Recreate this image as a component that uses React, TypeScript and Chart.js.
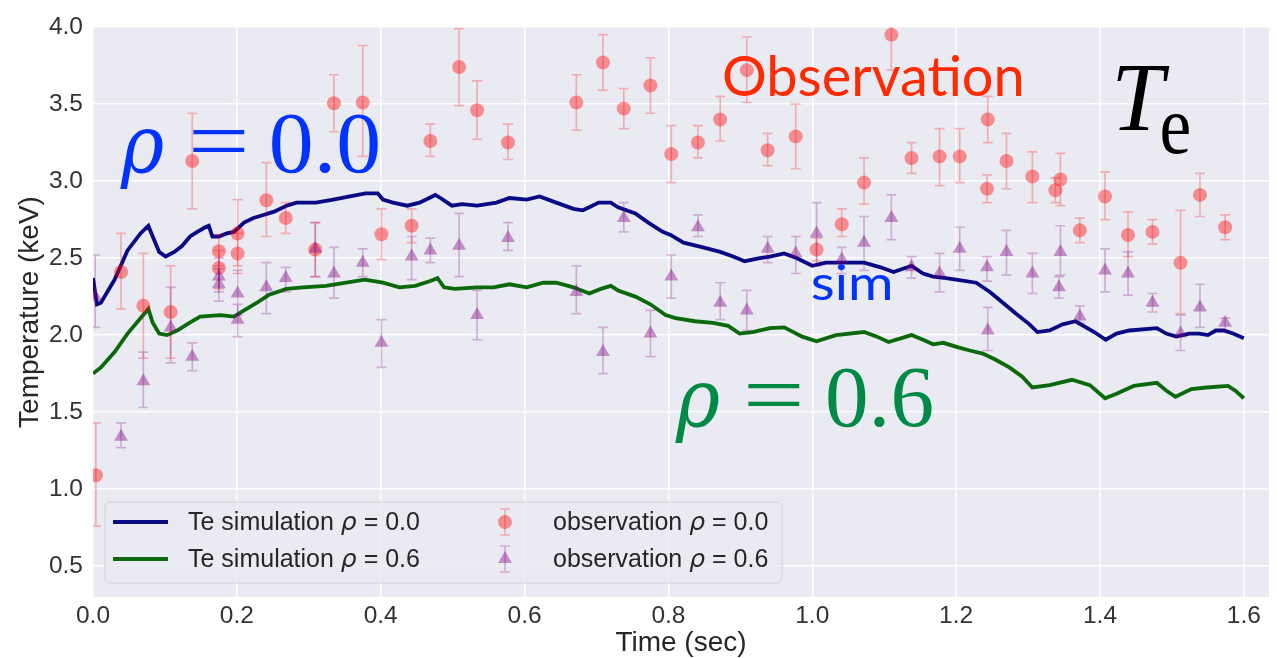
import React, { useEffect, useRef } from "react";
import { Chart, registerables } from "chart.js";

Chart.register(...registerables);

// ---------- DATA ----------
// Simulation, rho = 0.0 (time in sec, Te in keV)
const simTime00 = [
  0, 0.0055, 0.011, 0.030, 0.048, 0.066, 0.077, 0.083, 0.092, 0.101,
  0.113, 0.124, 0.135, 0.145, 0.156, 0.161, 0.166, 0.175, 0.186, 0.196,
  0.210, 0.223, 0.237, 0.244, 0.251, 0.269, 0.283, 0.310, 0.334, 0.357,
  0.379, 0.396, 0.403, 0.417, 0.437, 0.454, 0.476, 0.483, 0.499, 0.513,
  0.534, 0.561, 0.579, 0.603, 0.621, 0.644, 0.668, 0.681, 0.690, 0.703,
  0.720, 0.730, 0.754, 0.772, 0.792, 0.803, 0.821, 0.848, 0.872, 0.890,
  0.906, 0.927, 0.941, 0.961, 0.978, 1.000, 1.019, 1.051, 1.072, 1.095,
  1.113, 1.138, 1.154, 1.168, 1.186, 1.200, 1.228, 1.247, 1.265, 1.283,
  1.302, 1.313, 1.330, 1.348, 1.366, 1.392, 1.408, 1.423, 1.441, 1.479,
  1.492, 1.506, 1.524, 1.538, 1.550, 1.561, 1.572, 1.585, 1.600,
];
const simTe00 = [
  2.37, 2.20, 2.21, 2.36, 2.55, 2.66, 2.71, 2.64, 2.54, 2.51,
  2.54, 2.58, 2.64, 2.67, 2.70, 2.71, 2.64, 2.64, 2.66, 2.67,
  2.73, 2.76, 2.78, 2.79, 2.80, 2.84, 2.86, 2.86, 2.88, 2.90,
  2.92, 2.92, 2.88, 2.86, 2.84, 2.86, 2.91, 2.89, 2.84, 2.85,
  2.84, 2.86, 2.89, 2.88, 2.90, 2.86, 2.82, 2.81, 2.83, 2.86,
  2.86, 2.83, 2.79, 2.73, 2.67, 2.65, 2.60, 2.57, 2.54, 2.51,
  2.48, 2.50, 2.51, 2.53, 2.50, 2.45, 2.47, 2.47, 2.47, 2.44,
  2.41, 2.45, 2.40, 2.38, 2.37, 2.36, 2.34, 2.28, 2.21, 2.14,
  2.07, 2.02, 2.03, 2.07, 2.09, 2.02, 1.97, 2.01, 2.03, 2.045,
  2.01, 1.99, 2.01, 2.01, 2.00, 2.03, 2.03, 2.01, 1.98,
];

// Simulation, rho = 0.6
const simTime06 = [
  0, 0.011, 0.030, 0.048, 0.066, 0.077, 0.083, 0.092, 0.103, 0.117,
  0.134, 0.149, 0.177, 0.196, 0.210, 0.228, 0.244, 0.269, 0.292, 0.324,
  0.352, 0.378, 0.403, 0.426, 0.448, 0.468, 0.479, 0.488, 0.503, 0.534,
  0.557, 0.579, 0.603, 0.626, 0.644, 0.668, 0.690, 0.706, 0.720, 0.730,
  0.754, 0.775, 0.796, 0.810, 0.837, 0.862, 0.883, 0.899, 0.917, 0.941,
  0.961, 0.986, 1.006, 1.033, 1.072, 1.090, 1.106, 1.138, 1.154, 1.168,
  1.182, 1.203, 1.219, 1.237, 1.255, 1.274, 1.292, 1.306, 1.330, 1.361,
  1.386, 1.407, 1.423, 1.447, 1.479, 1.492, 1.505, 1.527, 1.548, 1.578,
  1.588, 1.600,
];
const simTe06 = [
  1.75, 1.79, 1.89, 2.01, 2.11, 2.17, 2.08, 2.01, 2.00, 2.03,
  2.08, 2.12, 2.13, 2.12, 2.16, 2.21, 2.26, 2.30, 2.31, 2.32,
  2.34, 2.36, 2.34, 2.31, 2.32, 2.35, 2.37, 2.31, 2.30, 2.31,
  2.31, 2.33, 2.31, 2.34, 2.34, 2.31, 2.27, 2.30, 2.32, 2.29,
  2.25, 2.20, 2.13, 2.11, 2.09, 2.08, 2.06, 2.01, 2.02, 2.045,
  2.05, 1.99, 1.96, 2.00, 2.02, 1.99, 1.955, 2.00, 1.97, 1.94,
  1.95, 1.92, 1.90, 1.88, 1.84, 1.79, 1.73, 1.66, 1.675, 1.71,
  1.675, 1.59, 1.62, 1.67, 1.69, 1.64, 1.60, 1.65, 1.66, 1.67,
  1.64, 1.59,
];

// Observation, rho = 0.0 (value, lower and upper end of error bar)
const obsTime00 = [
  0.004, 0.039, 0.070, 0.108, 0.138, 0.175, 0.175, 0.201, 0.201, 0.241,
  0.268, 0.309, 0.335, 0.375, 0.401, 0.443, 0.469, 0.509, 0.534, 0.577,
  0.672, 0.709, 0.738, 0.775, 0.804, 0.841, 0.872, 0.909, 0.938, 0.977,
  1.006, 1.041, 1.072, 1.110, 1.138, 1.177, 1.205, 1.244, 1.243, 1.270,
  1.306, 1.345, 1.338, 1.372, 1.407, 1.439, 1.473, 1.512, 1.539, 1.574,
];
const obsTe00 = [
  1.09, 2.41, 2.19, 2.15, 3.13, 2.545, 2.435, 2.66, 2.53, 2.875,
  2.76, 2.555, 3.505, 3.51, 2.655, 2.71, 3.26, 3.74, 3.46, 3.25,
  3.51, 3.77, 3.47, 3.62, 3.175, 3.25, 3.40, 3.72, 3.20, 3.29,
  2.555, 2.72, 2.99, 3.95, 3.15, 3.16, 3.16, 3.40, 2.95, 3.13,
  3.03, 3.01, 2.94, 2.68, 2.90, 2.65, 2.67, 2.47, 2.91, 2.70,
];
const obsLow00 = [
  0.76, 2.17, 1.85, 1.85, 2.82, 2.45, 2.30, 2.45, 2.40, 2.64,
  2.66, 2.38, 3.32, 3.16, 2.49, 2.60, 3.16, 3.49, 3.27, 3.14,
  3.33, 3.59, 3.34, 3.44, 2.99, 3.15, 3.26, 3.51, 3.10, 3.08,
  2.48, 2.64, 2.85, 3.72, 3.05, 2.97, 2.99, 3.25, 2.86, 2.95,
  2.86, 2.84, 2.86, 2.60, 2.75, 2.51, 2.59, 2.14, 2.77, 2.62,
];
const obsHigh00 = [
  1.43, 2.66, 2.53, 2.45, 3.44, 2.65, 2.55, 2.88, 2.66, 3.12,
  2.86, 2.73, 3.69, 3.88, 2.82, 2.82, 3.37, 3.99, 3.65, 3.37,
  3.69, 3.95, 3.60, 3.80, 3.36, 3.36, 3.55, 3.935, 3.31, 3.50,
  2.63, 2.82, 3.15, 4.18, 3.25, 3.34, 3.34, 3.55, 3.04, 3.31,
  3.19, 3.18, 3.02, 2.76, 3.06, 2.80, 2.75, 2.81, 3.05, 2.78,
];

// Observation, rho = 0.6
const obsTime06 = [
  0.003, 0.039, 0.070, 0.108, 0.138, 0.175, 0.175, 0.201, 0.201, 0.241,
  0.268, 0.309, 0.335, 0.375, 0.401, 0.443, 0.469, 0.509, 0.534, 0.577,
  0.672, 0.709, 0.738, 0.775, 0.804, 0.841, 0.872, 0.909, 0.938, 0.977,
  1.006, 1.041, 1.072, 1.110, 1.138, 1.177, 1.205, 1.243, 1.244, 1.270,
  1.306, 1.345, 1.343, 1.372, 1.407, 1.439, 1.473, 1.512, 1.539, 1.574,
];
const obsTe06 = [
  2.25, 1.34, 1.70, 2.05, 1.86, 2.38, 2.33, 2.27, 2.10, 2.31,
  2.37, 2.56, 2.40, 2.47, 1.95, 2.51, 2.55, 2.58, 2.13, 2.63,
  2.28, 1.89, 2.76, 2.01, 2.38, 2.70, 2.21, 2.16, 2.56, 2.53,
  2.66, 2.49, 2.60, 2.76, 2.44, 2.40, 2.56, 2.44, 2.03, 2.54,
  2.40, 2.54, 2.31, 2.12, 2.42, 2.40, 2.21, 2.01, 2.18, 2.08,
];
const obsLow06 = [
  2.05, 1.27, 1.53, 1.82, 1.77, 2.28, 2.22, 2.13, 1.99, 2.14,
  2.28, 2.38, 2.24, 2.38, 1.79, 2.36, 2.47, 2.38, 1.97, 2.55,
  2.14, 1.75, 2.67, 1.86, 2.24, 2.64, 2.10, 2.03, 2.47, 2.40,
  2.45, 2.40, 2.42, 2.62, 2.37, 2.28, 2.42, 2.35, 1.90, 2.39,
  2.27, 2.39, 2.24, 2.08, 2.28, 2.26, 2.15, 1.90, 2.05, 2.03,
];
const obsHigh06 = [
  2.52, 1.43, 1.89, 2.31, 1.95, 2.50, 2.43, 2.42, 2.20, 2.47,
  2.44, 2.73, 2.57, 2.56, 2.10, 2.64, 2.63, 2.79, 2.29, 2.73,
  2.45, 2.05, 2.86, 2.16, 2.52, 2.78, 2.34, 2.29, 2.64, 2.64,
  2.86, 2.57, 2.77, 2.91, 2.51, 2.53, 2.70, 2.51, 2.18, 2.68,
  2.53, 2.71, 2.38, 2.19, 2.56, 2.54, 2.27, 2.13, 2.33, 2.11,
];

const xTicks = [0.0, 0.2, 0.4, 0.6, 0.8, 1.0, 1.2, 1.4, 1.6];
const yTicks = [0.5, 1.0, 1.5, 2.0, 2.5, 3.0, 3.5, 4.0];

const seriesNames = [
  "Te simulation ",
  "Te simulation ",
  "observation ",
  "observation ",
];
const seriesRho = [" = 0.0", " = 0.6", " = 0.0", " = 0.6"];

// ---------- STYLE ----------
const NAVY = "#0a0a84";
const DGREEN = "#0b690b";
const RED_A = "rgba(255,0,0,0.4)";
const RED_BAR = "rgba(255,0,0,0.26)";
const PUR_A = "rgba(128,0,128,0.4)";
const PUR_BAR = "rgba(128,0,128,0.26)";
const SANS = '"Liberation Sans", Arial, sans-serif';
const SERIF = '"Liberation Serif", "Times New Roman", serif';
const RHO_SERIF = '"DejaVu Serif", "Liberation Serif", serif';

function pts(xs: number[], ys: number[]) {
  return xs.map((x, i) => ({ x, y: ys[i] }));
}

function drawErrBar(ctx: CanvasRenderingContext2D, x: number, y1: number, y2: number, color: string) {
  const cap = 5;
  ctx.strokeStyle = color;
  ctx.lineWidth = 1.7;
  ctx.beginPath();
  ctx.moveTo(x, y1);
  ctx.lineTo(x, y2);
  ctx.moveTo(x - cap, y1);
  ctx.lineTo(x + cap, y1);
  ctx.moveTo(x - cap, y2);
  ctx.lineTo(x + cap, y2);
  ctx.stroke();
}

const bgPlugin = {
  id: "bgPlugin",
  beforeDraw(chart: any) {
    const { ctx, chartArea } = chart;
    ctx.save();
    ctx.fillStyle = "#EAEAF2";
    ctx.fillRect(chartArea.left, chartArea.top, chartArea.right - chartArea.left, chartArea.bottom - chartArea.top);
    ctx.restore();
  },
};

const errorBarPlugin = {
  id: "errorBarPlugin",
  beforeDatasetDraw(chart: any, args: any) {
    const ds = chart.data.datasets[args.index];
    if (!ds.errLow) return;
    const { ctx, chartArea, scales } = chart;
    ctx.save();
    ctx.beginPath();
    ctx.rect(chartArea.left, chartArea.top, chartArea.right - chartArea.left, chartArea.bottom - chartArea.top);
    ctx.clip();
    ds.data.forEach((p: any, i: number) => {
      const px = scales.x.getPixelForValue(p.x);
      const y1 = scales.y.getPixelForValue(ds.errLow[i]);
      const y2 = scales.y.getPixelForValue(ds.errHigh[i]);
      drawErrBar(ctx, px, y1, y2, ds.errColor);
    });
    ctx.restore();
  },
};

function drawRich(ctx: CanvasRenderingContext2D, x: number, y: number, parts: { t: string; f: string }[]) {
  let cx = x;
  for (const p of parts) {
    ctx.font = p.f;
    ctx.fillText(p.t, cx, y);
    cx += ctx.measureText(p.t).width;
  }
}

const legendPlugin = {
  id: "customLegend",
  afterDraw(chart: any) {
    const { ctx, chartArea } = chart;
    const bx = chartArea.left + 12;
    const by = chartArea.bottom - 95;
    const bw = 677;
    const bh = 81;
    ctx.save();
    ctx.beginPath();
    const r = 5;
    ctx.moveTo(bx + r, by);
    ctx.arcTo(bx + bw, by, bx + bw, by + bh, r);
    ctx.arcTo(bx + bw, by + bh, bx, by + bh, r);
    ctx.arcTo(bx, by + bh, bx, by, r);
    ctx.arcTo(bx, by, bx + bw, by, r);
    ctx.closePath();
    ctx.fillStyle = "rgba(234,234,242,0.8)";
    ctx.fill();
    ctx.strokeStyle = "rgba(204,204,204,0.8)";
    ctx.lineWidth = 1;
    ctx.stroke();

    const rows = [by + 20, by + 57];
    const lineColors = [NAVY, DGREEN];
    for (let i = 0; i < 2; i++) {
      ctx.strokeStyle = lineColors[i];
      ctx.lineWidth = 3.8;
      ctx.beginPath();
      ctx.moveTo(bx + 8, rows[i]);
      ctx.lineTo(bx + 63, rows[i]);
      ctx.stroke();
    }
    const mx = bx + 400;
    drawErrBar(ctx, mx, rows[0] - 13, rows[0] + 13, RED_BAR);
    ctx.fillStyle = RED_A;
    ctx.beginPath();
    ctx.arc(mx, rows[0], 7, 0, Math.PI * 2);
    ctx.fill();
    drawErrBar(ctx, mx, rows[1] - 13, rows[1] + 13, PUR_BAR);
    ctx.fillStyle = PUR_A;
    ctx.beginPath();
    const tr = 8;
    ctx.moveTo(mx, rows[1] - tr);
    ctx.lineTo(mx + tr * 0.866, rows[1] + tr * 0.5);
    ctx.lineTo(mx - tr * 0.866, rows[1] + tr * 0.5);
    ctx.closePath();
    ctx.fill();

    ctx.fillStyle = "#262626";
    ctx.textBaseline = "alphabetic";
    ctx.textAlign = "left";
    const textX = [bx + 83, bx + 83, bx + 448, bx + 448];
    const textY = [rows[0] + 8, rows[1] + 8, rows[0] + 8, rows[1] + 8];
    for (let i = 0; i < 4; i++) {
      drawRich(ctx, textX[i], textY[i], [
        { t: seriesNames[i], f: `25px ${SANS}` },
        { t: "ρ", f: `italic 25px "DejaVu Sans", ${SANS}` },
        { t: seriesRho[i], f: `25px ${SANS}` },
      ]);
    }
    ctx.restore();
  },
};

// Annotation texts: [text, font, ink left px, ink right px, baseline px, color]
const annotations: [string, string, number, number, number, string][] = [
  ["ρ", `italic 80px ${RHO_SERIF}`, 120, 164, 172, "#0033ff"],
  ["=", `86px ${SERIF}`, 193, 245, 170, "#0033ff"],
  ["0.0", `86px ${SERIF}`, 272, 378, 172, "#0033ff"],
  ["ρ", `italic 80px ${RHO_SERIF}`, 675, 720, 426, "#008a46"],
  ["=", `86px ${SERIF}`, 748, 800, 424, "#008a46"],
  ["0.6", `86px ${SERIF}`, 828, 932, 426, "#008a46"],
  ["Observation", `57px Lato, "Open Sans", sans-serif`, 724, 1022, 96, "#ff2a00"],
  ["sim", `49px Lato, "Open Sans", sans-serif`, 812, 891, 300, "#0033ff"],
  ["T", `italic 98px ${SERIF}`, 1117, 1170, 130, "#000000"],
  ["e", `82px ${SERIF}`, 1162, 1189, 153, "#000000"],
];

const annotationPlugin = {
  id: "annotations",
  afterDraw(chart: any) {
    const { ctx } = chart;
    for (const [text, font, l, r, base, color] of annotations) {
      ctx.save();
      ctx.font = font;
      ctx.textAlign = "left";
      ctx.textBaseline = "alphabetic";
      const m = ctx.measureText(text);
      const inkW = m.actualBoundingBoxLeft + m.actualBoundingBoxRight;
      const sx = inkW > 0 ? (r - l) / inkW : 1;
      ctx.translate(l, base);
      ctx.scale(sx, 1);
      ctx.fillStyle = color;
      ctx.fillText(text, m.actualBoundingBoxLeft, 0);
      ctx.restore();
    }
  },
};

export default function App() {
  const canvasRef = useRef<HTMLCanvasElement | null>(null);

  useEffect(() => {
    document.body.style.margin = "0";
    const canvas = canvasRef.current;
    if (!canvas) return;
    const chart = new Chart(canvas, {
      type: "scatter",
      data: {
        datasets: [
          {
            label: "Te simulation ρ = 0.0",
            data: pts(simTime00, simTe00),
            showLine: true,
            borderColor: NAVY,
            backgroundColor: NAVY,
            borderWidth: 3.8,
            pointRadius: 0,
            tension: 0,
            order: 3,
          },
          {
            label: "Te simulation ρ = 0.6",
            data: pts(simTime06, simTe06),
            showLine: true,
            borderColor: DGREEN,
            backgroundColor: DGREEN,
            borderWidth: 3.8,
            pointRadius: 0,
            tension: 0,
            order: 4,
          },
          {
            label: "observation ρ = 0.0",
            data: pts(obsTime00, obsTe00),
            pointStyle: "circle",
            pointRadius: 7,
            pointBorderWidth: 0,
            borderWidth: 0,
            backgroundColor: RED_A,
            borderColor: "rgba(0,0,0,0)",
            errLow: obsLow00,
            errHigh: obsHigh00,
            errColor: RED_BAR,
            order: 2,
          } as any,
          {
            label: "observation ρ = 0.6",
            data: pts(obsTime06, obsTe06),
            pointStyle: "triangle",
            pointRadius: 8,
            pointBorderWidth: 0,
            borderWidth: 0,
            backgroundColor: PUR_A,
            borderColor: "rgba(0,0,0,0)",
            errLow: obsLow06,
            errHigh: obsHigh06,
            errColor: PUR_BAR,
            order: 1,
          } as any,
        ],
      },
      options: {
        responsive: false,
        animation: false,
        devicePixelRatio: 1,
        layout: { padding: { top: 27, right: 0, left: 0, bottom: 0 } },
        plugins: {
          legend: { display: false },
          tooltip: { enabled: false },
        },
        scales: {
          x: {
            type: "linear",
            min: 0,
            max: 1.635,
            afterBuildTicks: (s: any) => {
              s.ticks = xTicks.map((v) => ({ value: v }));
            },
            afterFit: (s: any) => {
              s.height = 61;
            },
            grid: { color: "rgba(255,255,255,0.95)", lineWidth: 1.5, drawTicks: false },
            border: { display: false },
            ticks: {
              padding: 5,
              color: "#333333",
              font: { family: SANS, size: 24.5 },
              callback: (v: any) => Number(v).toFixed(1),
            },
            title: {
              display: true,
              text: "Time (sec)",
              color: "#262626",
              font: { family: SANS, size: 28, lineHeight: 1 },
              padding: { top: 0, bottom: 1 },
            },
          },
          y: {
            type: "linear",
            min: 0.3,
            max: 4.0,
            afterBuildTicks: (s: any) => {
              s.ticks = yTicks.map((v) => ({ value: v }));
            },
            afterFit: (s: any) => {
              s.width = 93;
            },
            grid: { color: "rgba(255,255,255,0.95)", lineWidth: 1.5, drawTicks: false },
            border: { display: false },
            ticks: {
              padding: 10,
              color: "#333333",
              font: { family: SANS, size: 24.5 },
              callback: (v: any) => Number(v).toFixed(1),
            },
            title: {
              display: true,
              text: "Temperature (keV)",
              color: "#262626",
              font: { family: SANS, size: 28, lineHeight: 1 },
              padding: { top: 16, bottom: 0 },
            },
          },
        },
      } as any,
      plugins: [bgPlugin, errorBarPlugin, legendPlugin, annotationPlugin],
    });
    return () => chart.destroy();
  }, []);

  return (
    <div style={{ width: 1277, height: 658, position: "relative", background: "#ffffff" }}>
      <canvas ref={canvasRef} width={1277} height={658} style={{ display: "block", width: 1277, height: 658 }} />
    </div>
  );
}
